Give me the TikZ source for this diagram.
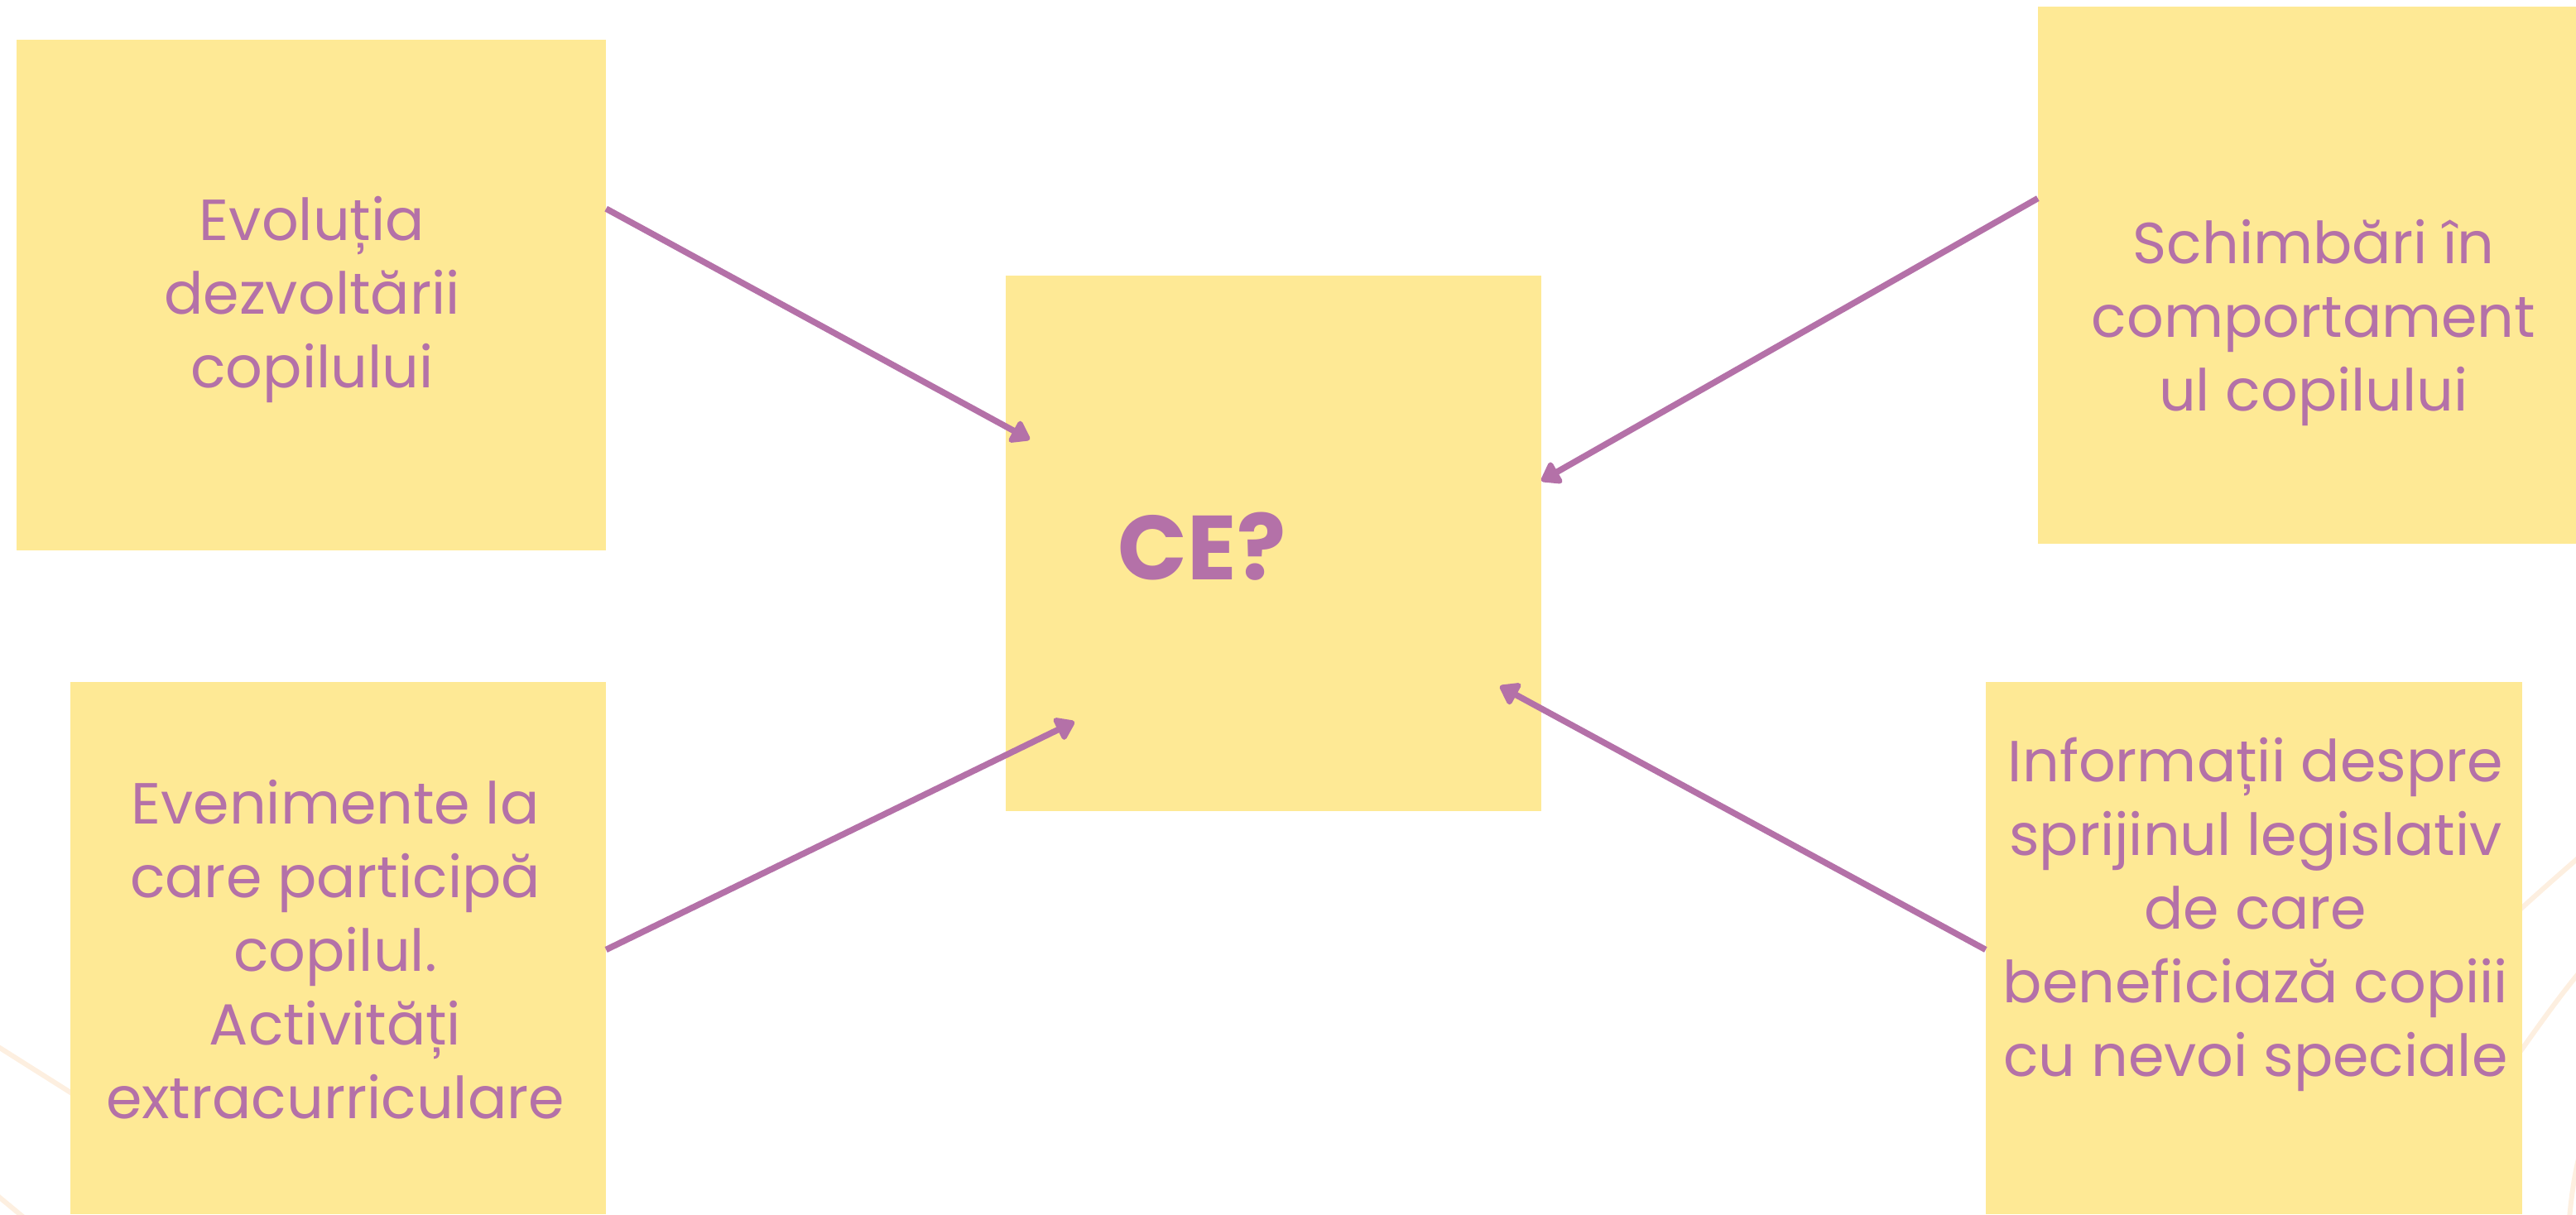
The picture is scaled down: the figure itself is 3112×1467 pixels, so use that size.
\documentclass[tikz,border=0pt]{standalone}
\usepackage{fontspec}
\setmainfont{Poppins}
\usetikzlibrary{arrows.meta,calc}
\definecolor{boxyellow}{HTML}{FEE995}
\definecolor{mauve}{HTML}{B471A8}
\definecolor{peach}{HTML}{FDEFE0}
\tikzset{
  card/.style={fill=boxyellow, draw=none, inner sep=0pt, minimum width=#1},
  cardtext/.style={text=mauve, align=center, inner sep=0pt, font=\fontsize{70}{89}\selectfont},
  conn/.style={draw=mauve, line width=7.5pt, -{Triangle[round, length=25pt, width=33pt]}},
  deco/.style={draw=peach, line width=6pt}
}
\begin{document}
\begin{tikzpicture}[x=1pt,y=-1pt]
\useasboundingbox (0,0) rectangle (3112,1467);
% faint background curves
\draw[deco] (-5,1263) -- (90,1323);
\draw[deco] (-5,1443) -- (30,1472);
\draw[deco] (3040,1103) .. controls (3065,1080) and (3090,1058) .. (3120,1032);
\draw[deco] (3040,1277) .. controls (3065,1242) and (3090,1206) .. (3120,1170);
\draw[deco] (3104,1472) .. controls (3106,1450) and (3109,1425) .. (3115,1400);
% cards
\node[card=712pt, minimum height=617pt] (b1) at (376,356.5) {};
\node[card=650pt, minimum height=649pt] (b2) at (2787,332.5) {};
\node[card=647pt, minimum height=647pt] (c) at (1538.5,656.5) {};
\node[card=647pt, minimum height=643pt] (b3) at (408.5,1145.5) {};
\node[card=648pt, minimum height=643pt] (b4) at (2723,1145.5) {};
% texts
\node[cardtext] (t1) at (377,362) {Evoluția\\dezvoltării\\copilului};
\node[cardtext] (t2) at (2795,390) {Schimbări în\\comportament\\ul copilului};
\node[cardtext] (t3) at (405,1147) {Evenimente la\\care participă\\copilul.\\Activități\\extracurriculare};
\node[cardtext] (t4) at (2725,1105) {Informații despre\\sprijinul legislativ\\de care\\beneficiază copiii\\cu nevoi speciale};
\node[text=mauve, inner sep=0pt, anchor=base, font=\fontsize{110}{120}\selectfont\bfseries] (q) at (1452,700) {CE?};
% arrow tips
\coordinate (e1) at (1244,531);
\coordinate (e2) at (1862,581);
\coordinate (e3) at (1298,872);
\coordinate (e4) at (1812,829);
\draw[conn] ($(b1.north east)!0.331!(b1.south east)$) -- (e1);
\draw[conn] ($(b2.north west)!0.357!(b2.south west)$) -- (e2);
\draw[conn] ($(b3.north east)!0.503!(b3.south east)$) -- (e3);
\draw[conn] ($(b4.north west)!0.503!(b4.south west)$) -- (e4);
\end{tikzpicture}
\end{document}
